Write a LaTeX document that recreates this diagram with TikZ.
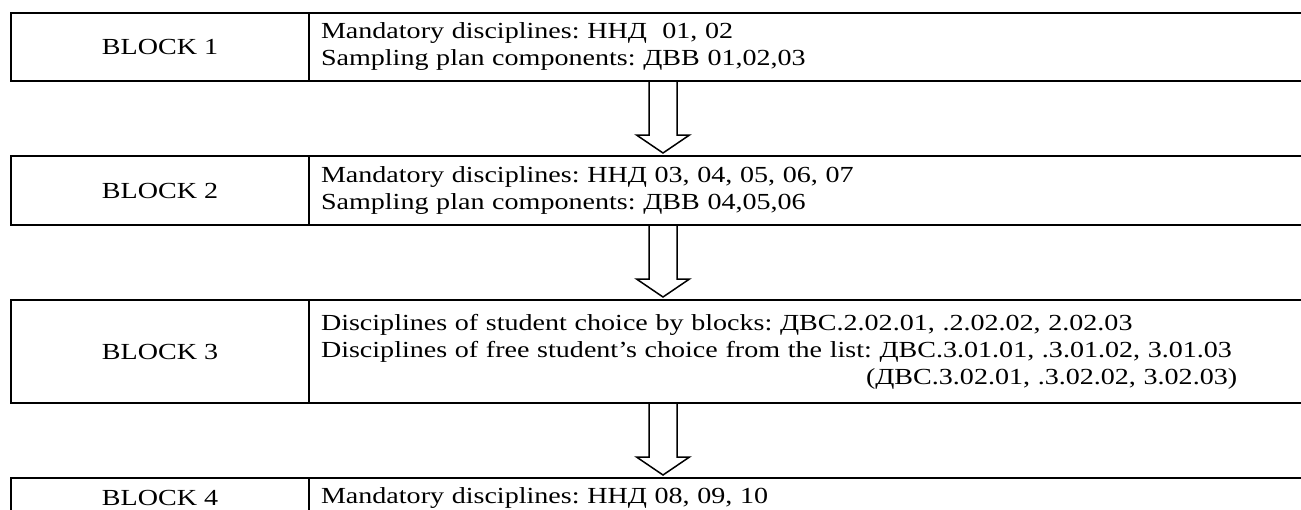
\documentclass[tikz,border=0pt]{standalone}
\usepackage{fontspec}
\setmainfont[FakeStretch=1.22]{Liberation Serif}
\usetikzlibrary{calc, positioning}
\tikzstyle{blockbox} = [draw, rectangle, line width=2.2pt, outer sep=0pt,
   inner sep=0pt, font=\fontsize{23}{27}\selectfont\frenchspacing]
\tikzstyle{blocklabel} = [blockbox, anchor=north west, minimum width=298pt, align=center]
\tikzstyle{blocktext} = [blockbox, text width=997pt, inner xsep=12pt, align=left]
\tikzstyle{hollowarrow} = [line width=1.5pt, line join=miter,
   to path={let \p1=(\tikztostart), \p2=(\tikztotarget) in
   (\x1-14pt,\y1) -- (\x1-14pt,\y2+21pt) -- (\x1-26.5pt,\y2+21pt) -- (\x1,\y2+3pt)
   -- (\x1+26.5pt,\y2+21pt) -- (\x1+14pt,\y2+21pt) -- (\x1+14pt,\y1)}]

\begin{document}
\begin{tikzpicture}[x=1pt, y=-1pt]
  \useasboundingbox (0,0) rectangle (1301,509);
  \clip (0,0) rectangle (1301,509);

  % blocks: label cell + list cell
  \node[blocklabel, minimum height=68pt] (b1l) at (11,13) {BLOCK 1};
  \node[blocktext, minimum height=68pt, right=0pt of b1l] (b1r) {Mandatory disciplines: ННД\ \ 01, 02\\Sampling plan components: ДВВ 01,02,03};
  \node[blocklabel, minimum height=69pt, below=75pt of b1l] (b2l) {BLOCK 2};
  \node[blocktext, minimum height=69pt, right=0pt of b2l] (b2r) {Mandatory disciplines: ННД 03, 04, 05, 06, 07\\Sampling plan components: ДВВ 04,05,06};
  \node[blocklabel, minimum height=103pt, below=75pt of b2l] (b3l) {BLOCK 3};
  \node[blocktext, minimum height=103pt, right=0pt of b3l] (b3r) {Disciplines of student choice by blocks: ДВС.2.02.01, .2.02.02, 2.02.03\\Disciplines of free student’s choice from the list: ДВС.3.01.01, .3.01.02, 3.01.03\\\hspace*{545pt}(ДВС.3.02.01, .3.02.02, 3.02.03)};
  \node[blocklabel, minimum height=40pt, below=75pt of b3l] (b4l) {BLOCK 4};
  \node[blocktext, minimum height=40pt, right=0pt of b4l] (b4r) {Mandatory disciplines: ННД 08, 09, 10};

  % hollow arrows between blocks
  \coordinate (ax) at (663,0);
  \draw[hollowarrow] (b1r.south -| ax) to (b2r.north -| ax);
  \draw[hollowarrow] (b2r.south -| ax) to (b3r.north -| ax);
  \draw[hollowarrow] (b3r.south -| ax) to (b4r.north -| ax);
\end{tikzpicture}
\end{document}
